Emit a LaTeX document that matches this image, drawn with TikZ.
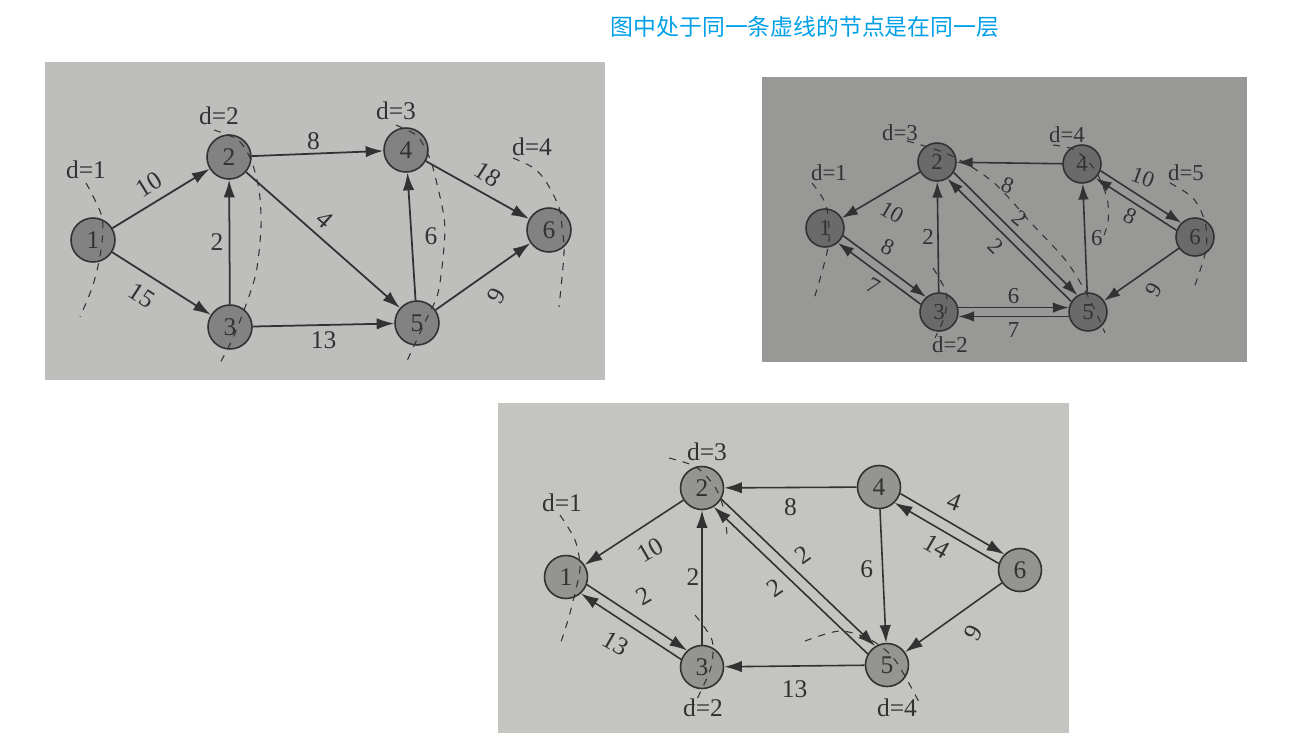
\documentclass[tikz,border=0pt]{standalone}
\usepackage{fontspec}
\setmainfont{Liberation Serif}
\newfontfamily\cjk{Noto Sans CJK SC}
\usetikzlibrary{arrows.meta}
\definecolor{titleblue}{RGB}{0,160,233}
\definecolor{bgone}{RGB}{190,190,188}
\definecolor{bgtwo}{RGB}{152,152,151}
\definecolor{bgthree}{RGB}{196,197,192}
\definecolor{nodeone}{RGB}{130,130,130}
\definecolor{nodetwo}{RGB}{106,106,106}
\definecolor{nodethree}{RGB}{148,148,145}
\definecolor{inkgray}{RGB}{50,50,50}

\begin{document}
\begin{tikzpicture}[x=0.02cm, y=-0.02cm,
    roundnode/.style={circle, draw=inkgray, fill=#1, line width=0.9pt, minimum size=0.88cm, inner sep=0pt, text=inkgray, font=\fontsize{14.5}{16}\selectfont},
    smallnode/.style={roundnode=#1, minimum size=0.76cm, font=\fontsize{13}{15}\selectfont},
    lbl/.style={text=inkgray, inner sep=2pt, font=\fontsize{14.5}{16}\selectfont},
    smalllbl/.style={lbl, font=\fontsize{13}{15}\selectfont},
    level/.style={draw=inkgray, line width=0.6pt, dash pattern=on 4pt off 4pt},
    >={Latex[length=10pt, width=6.5pt]}]
    \fill[white] (0,0) rectangle (1296,745);
    \node[text=titleblue, font=\cjk\fontsize{13}{15}\selectfont] (title) at (805,27) {图中处于同一条虚线的节点是在同一层};

    % first graph
    \fill[bgone] (45,62) rectangle (605,380);
    \node [roundnode=nodeone] at (93,240)  (a1) {1};
    \node [roundnode=nodeone] at (229,157) (a2) {2};
    \node [roundnode=nodeone] at (230,327) (a3) {3};
    \node [roundnode=nodeone] at (406,150) (a4) {4};
    \node [roundnode=nodeone] at (417,323) (a5) {5};
    \node [roundnode=nodeone] at (549,230) (a6) {6};
    \node [lbl] at (86,170)  (da1) {d=1};
    \node [lbl] at (219,116) (da2) {d=2};
    \node [lbl] at (396,111) (da3) {d=3};
    \node [lbl] at (532,147) (da4) {d=4};
    \path[->, color=inkgray, line width=1pt]
        (a1) edge node[lbl, pos=.45, shift={(-7,-17)}, rotate=32] {10} (a2)
        (a1) edge node[lbl, pos=.36, shift={(-6,21)}, rotate=-33] {15} (a3)
        (a3) edge node[lbl, left=1pt] {2} (a2)
        (a2) edge node[lbl, pos=.47, above] {8} (a4)
        (a2) edge node[lbl, pos=.47, shift={(6,-16)}, rotate=-42] {4} (a5)
        (a3) edge node[lbl, below=1pt] {13} (a5)
        (a5) edge node[lbl, right=5pt] {6} (a4)
        (a4) edge node[lbl, pos=.55, shift={(5,-18)}, rotate=-33] {18} (a6)
        (a5) edge node[lbl, pos=.5, shift={(13,19)}, rotate=60] {9} (a6);
    \draw[level] plot[smooth] coordinates {(86,183) (102,217) (101,250) (93,285) (80,317)};
    \draw[level] plot[smooth] coordinates {(214,130) (238,140) (251,160) (259,190) (261,227) (256,273) (243,313) (232,340) (219,365)};
    \draw[level] plot[smooth] coordinates {(396,125) (416,135) (425,148) (433,168) (444,217) (444,247) (438,293) (425,322) (406,363)};
    \draw[level] plot[smooth] coordinates {(513,158) (532,167) (545,180) (559,207) (562,227) (564,253) (559,307)};

    % second graph
    \fill[bgtwo] (762,77) rectangle (1247,362);
    \node [smallnode=nodetwo] at (825,228)  (b1) {1};
    \node [smallnode=nodetwo] at (937,162)  (b2) {2};
    \node [smallnode=nodetwo] at (939,312)  (b3) {3};
    \node [smallnode=nodetwo] at (1082,164) (b4) {4};
    \node [smallnode=nodetwo] at (1088,312) (b5) {5};
    \node [smallnode=nodetwo] at (1195,237) (b6) {6};
    \node [smalllbl] at (829,173)  (db1) {d=1};
    \node [smalllbl] at (950,345)  (db2) {d=2};
    \node [smalllbl] at (900,133)  (db3) {d=3};
    \node [smalllbl] at (1067,135) (db4) {d=4};
    \node [smalllbl] at (1186,173) (db5) {d=5};
    \path[->, color=inkgray, line width=0.9pt, >={Latex[length=9pt, width=6pt]}]
        (b2) edge node[smalllbl, pos=.4, shift={(3,22)}, rotate=-30] {10} (b1)
        (b1.337) edge node[smalllbl, pos=.5, shift={(3,-19)}, rotate=-25] {8} (b3.131)
        (b3.157) edge node[smalllbl, pos=.6, shift={(2,18)}, rotate=-30] {7} (b1.311)
        (b3) edge node[smalllbl, left=0pt] {2} (b2)
        (b4) edge node[smalllbl, pos=.5, shift={(-2,22)}, rotate=-20] {8} (b2)
        (b2.328) edge node[smalllbl, pos=.5, shift={(4,-15)}, rotate=-40] {2} (b5.122)
        (b5.148) edge node[smalllbl, pos=.5, shift={(-13,6)}, rotate=-45] {2} (b2.302)
        (b5) edge node[smalllbl, right=1pt] {6} (b4)
        (b4.340) edge node[smalllbl, pos=.5, shift={(2,-19)}, rotate=-20] {10} (b6.134)
        (b6.160) edge node[smalllbl, pos=.6, shift={(2,17)}, rotate=-25] {8} (b4.314)
        (b6) edge node[smalllbl, pos=.4, shift={(5,21)}, rotate=60] {9} (b5)
        (b3.13) edge node[smalllbl, above=0pt] {6} (b5.167)
        (b5.193) edge node[smalllbl, below=1pt] {7} (b3.347);
    \draw[level] plot[smooth] coordinates {(812,183) (826,205) (829,240) (822,272) (813,302)};
    \draw[level] plot[smooth] coordinates {(933,268) (946,292) (945,315) (935,338)};
    \draw[level] plot[smooth] coordinates {(907,141) (950,155) (993,182) (1033,225) (1067,262) (1090,300) (1105,333)};
    \draw[level] plot[smooth] coordinates {(1053,145) (1075,150) (1095,170) (1107,198) (1108,222) (1102,240)};
    \draw[level] plot[smooth] coordinates {(1170,183) (1193,198) (1205,222) (1206,250) (1195,285)};

    % third graph
    \fill[bgthree] (498,403) rectangle (1069,733);
    \node [roundnode=nodethree, minimum size=0.86cm] at (566,577) (c1) {1};
    \node [roundnode=nodethree, minimum size=0.86cm] at (702,488) (c2) {2};
    \node [roundnode=nodethree, minimum size=0.86cm] at (702,667) (c3) {3};
    \node [roundnode=nodethree, minimum size=0.86cm] at (879,487) (c4) {4};
    \node [roundnode=nodethree, minimum size=0.86cm] at (887,665) (c5) {5};
    \node [roundnode=nodethree, minimum size=0.86cm] at (1020,570) (c6) {6};
    \node [lbl] at (562,503) (dc1) {d=1};
    \node [lbl] at (703,708) (dc2) {d=2};
    \node [lbl] at (707,452) (dc3) {d=3};
    \node [lbl] at (897,708) (dc4) {d=4};
    \path[->, color=inkgray, line width=0.9pt]
        (c2) edge node[lbl, pos=.4, shift={(6,24)}, rotate=30] {10} (c1)
        (c1.340) edge node[lbl, pos=.5, shift={(7,-22)}, rotate=30] {2} (c3.132)
        (c3.160) edge node[lbl, pos=.55, shift={(-10,20)}, rotate=-30] {13} (c1.312)
        (c3) edge node[lbl, left=-1pt] {2} (c2)
        (c4) edge node[lbl, below=4pt] {8} (c2)
        (c2.330) edge node[lbl, pos=.5, shift={(5,-18)}, rotate=35] {2} (c5.122)
        (c5.150) edge node[lbl, pos=.55, shift={(-8,15)}, rotate=35] {2} (c2.302)
        (c4) edge node[lbl, pos=.45, left=3pt] {6} (c5)
        (c4.343) edge node[lbl, pos=.5, shift={(2,-22)}, rotate=-20] {4} (c6.135)
        (c6.163) edge node[lbl, pos=.55, shift={(-5,16)}, rotate=-30] {14} (c4.315)
        (c6) edge node[lbl, pos=.4, shift={(10,22)}, rotate=60] {9} (c5)
        (c5) edge node[lbl, below=6pt] {13} (c3);
    \draw[level] plot[smooth] coordinates {(560,515) (575,540) (580,567) (575,593) (568,620) (559,648)};
    \draw[level] plot[smooth] coordinates {(695,615) (712,640) (711,667) (699,695) (694,705)};
    \draw[level] plot[smooth] coordinates {(669,458) (696,467) (715,487) (724,510) (727,535)};
    \draw[level] plot[smooth] coordinates {(805,641) (840,631) (871,640) (895,660) (919,702)};
\end{tikzpicture}
\end{document}
